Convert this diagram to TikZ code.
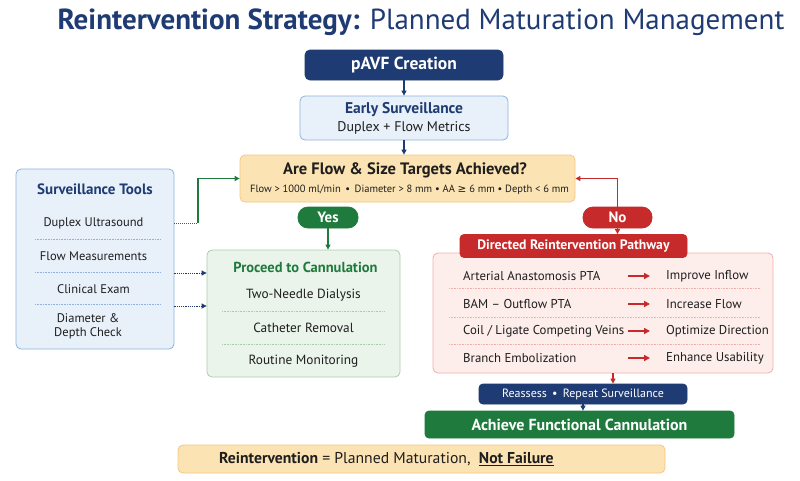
\documentclass[tikz,border=0pt]{standalone}
\usepackage{fontspec}
\setmainfont{PT Sans}
\newfontfamily\symf{DejaVu Sans}
\usetikzlibrary{arrows.meta}
\definecolor{navy}{HTML}{1F3B73}
\definecolor{lblue}{HTML}{E8F0FA}
\definecolor{bblue}{HTML}{8FB2DE}
\definecolor{dgreen}{HTML}{1F7A3D}
\definecolor{lgreen}{HTML}{EAF4EB}
\definecolor{bgreen}{HTML}{A9CFB1}
\definecolor{dred}{HTML}{C62A2A}
\definecolor{lpink}{HTML}{FDEDEB}
\definecolor{bpink}{HTML}{F1B0AB}
\definecolor{lorange}{HTML}{FCE3B3}
\definecolor{borange}{HTML}{F4C77F}
\definecolor{txt}{HTML}{1E1E1E}
\newcommand{\fs}[1]{\fontsize{#1}{#1}\selectfont}
\tikzset{
  base/.style={rounded corners=5pt, line width=0.8pt, inner sep=0pt},
  navybox/.style={base, fill=navy, draw=navy, text=white},
  bluebox/.style={base, fill=lblue, draw=bblue},
  greenbox/.style={base, fill=lgreen, draw=bgreen},
  pinkbox/.style={base, fill=lpink, draw=bpink},
  orangebox/.style={base, fill=lorange, draw=borange},
  greenfill/.style={base, fill=dgreen, draw=dgreen, text=white},
  redfill/.style={base, fill=dred, draw=dred, text=white},
  pill/.style={rounded corners=10pt},
  lbl/.style={inner sep=0pt, text=txt},
  arr/.style={-{Triangle[length=5pt,width=5pt]}, line width=1.2pt},
  rowarr/.style={-{Triangle[length=6pt,width=6pt]}, line width=1.5pt, dred},
  sep/.style={densely dotted, line width=0.6pt},
}
\begin{document}
\begin{tikzpicture}[x=1pt,y=-1pt]
\useasboundingbox[fill=white] (0,0) rectangle (800,480);
% title
\node[inner sep=0pt, text=navy] (title) at (421,22) {\fs{29}\textbf{Reintervention Strategy:} Planned Maturation Management};
% top flow
\node[navybox, minimum width=198pt, minimum height=30pt] (pavf) at (404,65) {\fs{17.5}\textbf{pAVF Creation}};
\node[bluebox, minimum width=208pt, minimum height=44pt] (early) at (404,118) {};
\node[lbl, text=navy] (earlyt) at (404,110) {\fs{15.5}\textbf{Early Surveillance}};
\node[lbl] (earlys) at (404,128) {\fs{14}Duplex + Flow Metrics};
\node[orangebox, minimum width=335pt, minimum height=47pt] (q) at (407.5,178.5) {};
\node[lbl] (qt) at (405,170) {\fs{16.5}\textbf{Are Flow \& Size Targets Achieved?}};
\node[lbl] (qs) at (409.5,189.5) {\fs{10.5}Flow > 1000 ml/min \,•\, Diameter > 8 mm • AA {\symf ≥} 6 mm • Depth < 6 mm};
% surveillance tools
\node[bluebox, minimum width=158pt, minimum height=180pt] (tools) at (95,259) {};
\node[lbl, text=navy] (toolst) at (95,189) {\fs{15}\textbf{Surveillance Tools}};
\node[lbl] (t1) at (93.5,223) {\fs{12.5}Duplex Ultrasound};
\node[lbl] (t2) at (93.5,256) {\fs{12.5}Flow Measurements};
\node[lbl] (t3) at (93.5,289) {\fs{12.5}Clinical Exam};
\node[lbl, align=center] (t4) at (88,326) {\fs{12.5}Diameter \&\\[2pt]\fs{12.5}Depth Check};
\draw[sep, bblue] (35,239) -- (160,239) (35,272) -- (160,272) (35,304) -- (160,304);
% yes / proceed
\node[greenfill, pill, minimum width=60pt, minimum height=21pt] (yes) at (328,217.5) {\fs{15}\textbf{Yes}};
\node[greenbox, minimum width=193pt, minimum height=127pt] (proc) at (303.5,313.5) {};
\node[lbl, text=dgreen] (proct) at (305.5,267) {\fs{14.5}\textbf{Proceed to Cannulation}};
\node[lbl] (p1) at (303.5,295.5) {\fs{13.3}Two-Needle Dialysis};
\node[lbl] (p2) at (303.5,328) {\fs{13.3}Catheter Removal};
\node[lbl] (p3) at (303.5,361.5) {\fs{13.3}Routine Monitoring};
\draw[sep, bgreen] (222,311) -- (385,311) (222,344) -- (385,344);
% no / directed
\node[redfill, pill, minimum width=69pt, minimum height=21pt] (no) at (617.5,217.5) {\fs{15}\textbf{No}};
\node[pinkbox, minimum width=340pt, minimum height=120pt] (red) at (603,313) {};
\node[redfill, rounded corners=4pt, minimum width=227pt, minimum height=23pt] (dir) at (573.5,246) {\fs{13.7}\textbf{Directed Reintervention Pathway}};
\foreach \y/\l/\r [count=\i] in {276/{Arterial Anastomosis PTA}/{Improve Inflow}, 304/{BAM -- Outflow PTA}/{Increase Flow}, 331/{Coil / Ligate Competing Veins}/{Optimize Direction}, 358/{Branch Embolization}/{Enhance Usability}}{
  \node[lbl, anchor=west] (l\i) at (463,\y) {\fs{12.8}\l};
  \node[lbl, anchor=west] (r\i) at (666,\y) {\fs{12.8}\r};
  \coordinate (a\i) at (628,\y);
  \coordinate (b\i) at (650,\y);
  \draw[rowarr] (a\i) -- (b\i);
}
\draw[sep, bpink] (449,288) -- (760,288) (449,317) -- (760,317) (449,344) -- (760,344);
% bottom
\node[navybox, rounded corners=4pt, minimum width=208pt, minimum height=20pt] (reas) at (583,394) {\fs{12}Reassess \,•\, Repeat Surveillance};
\node[greenfill, rounded corners=4pt, minimum width=309pt, minimum height=27pt] (ach) at (579.5,424.5) {\fs{16}\textbf{Achieve Functional Cannulation}};
\node[orangebox, minimum width=487pt, minimum height=28pt] (bot) at (421.5,459) {};
\node[lbl, anchor=west] (bott) at (219,459) {\fs{15.7}\textbf{Reintervention} = Planned Maturation, \ \textbf{\underline{Not Failure}}};
% connectors
\draw[arr, navy] (pavf) -- (early);
\draw[arr, navy] (early.south) -- (early.south |- q.north);
\draw[arr, dgreen] (yes.south) -- (yes.south |- proc.north);
\draw[arr, dred] (no.south) -- (no.south |- dir.north);
\draw[arr, dred] (no.north) |- (q.east);
\draw[arr, dred] ([xshift=10pt]red.south) -- ([xshift=10pt]red.south |- reas.north);
\draw[arr, navy] (reas.south) -- (reas.south |- ach.north);
\coordinate (g1) at (198,223);
\draw[densely dotted, line width=1pt, dgreen] (tools.east |- g1) -- (g1);
\draw[arr, dgreen] (g1) |- (q.west);
\draw[arr, navy, densely dotted, line width=0.9pt] (tools.east |- 0,273) -- (proc.west |- 0,273);
\draw[arr, navy, densely dotted, line width=0.9pt] (tools.east |- 0,306) -- (proc.west |- 0,306);
\end{tikzpicture}
\end{document}
